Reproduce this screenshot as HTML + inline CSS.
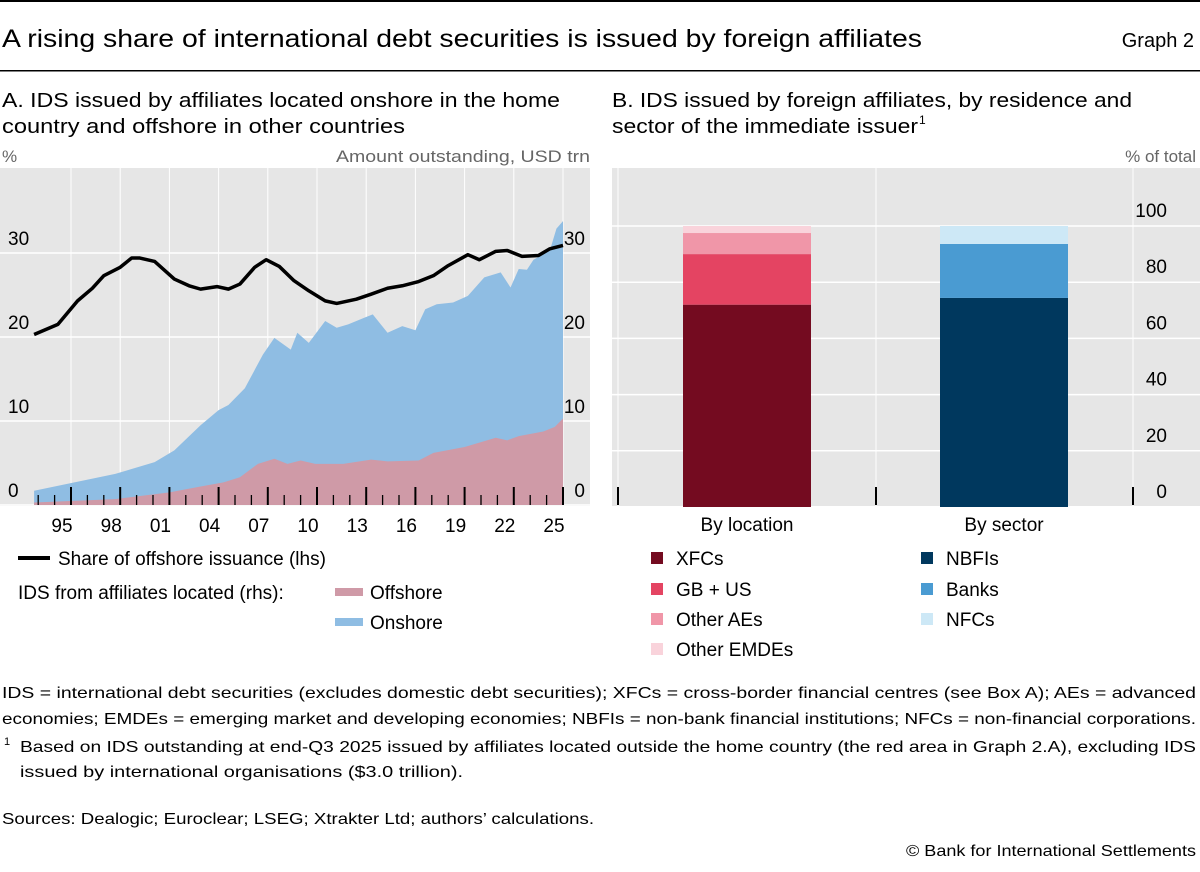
<!DOCTYPE html>
<html><head><meta charset="utf-8"><style>
body{margin:0;background:#fff}
svg{display:block;font-family:"Liberation Sans",sans-serif}
</style></head><body>
<svg id="s" width="1200" height="872" viewBox="0 0 1200 872">
<rect x="0" y="0" width="1200" height="2" fill="#000"/>
<text x="2" y="47" font-size="25" textLength="920" lengthAdjust="spacingAndGlyphs">A rising share of international debt securities is issued by foreign affiliates</text>
<text x="1194" y="47" font-size="20" text-anchor="end">Graph 2</text>
<rect x="0" y="70" width="1200" height="1.5" fill="#000"/>
<g font-size="20">
<text x="2" y="107" textLength="558" lengthAdjust="spacingAndGlyphs">A. IDS issued by affiliates located onshore in the home</text>
<text x="2" y="133" textLength="403" lengthAdjust="spacingAndGlyphs">country and offshore in other countries</text>
<text x="612" y="107" textLength="520" lengthAdjust="spacingAndGlyphs">B. IDS issued by foreign affiliates, by residence and</text>
<text x="612" y="133" textLength="306" lengthAdjust="spacingAndGlyphs">sector of the immediate issuer</text>
<text x="919" y="124" font-size="12">1</text>
</g>
<g font-size="17" fill="#666">
<text x="2" y="162">%</text>
<text x="590" y="162" text-anchor="end" textLength="254" lengthAdjust="spacingAndGlyphs">Amount outstanding, USD trn</text>
<text x="1196" y="162" text-anchor="end">% of total</text>
</g>
<rect x="0" y="168" width="590" height="338" fill="#e6e6e6"/>
<rect x="612" y="168" width="588" height="338" fill="#e6e6e6"/>
<g id="A"></g>
<g id="B"></g>
<g font-size="19" id="legend">
<line x1="18" y1="558" x2="50" y2="558" stroke="#000" stroke-width="4"/>
<text x="58" y="565">Share of offshore issuance (lhs)</text>
<text x="18" y="599">IDS from affiliates located (rhs):</text>
<rect x="335" y="588" width="28" height="8" fill="#cf9aa7"/>
<text x="370" y="599">Offshore</text>
<rect x="335" y="618" width="28" height="8" fill="#8fbde3"/>
<text x="370" y="629">Onshore</text>
<rect x="651" y="552" width="12" height="12" fill="#740b20"/>
<text x="676" y="565">XFCs</text>
<rect x="651" y="583" width="12" height="12" fill="#e44462"/>
<text x="676" y="596">GB + US</text>
<rect x="651" y="613" width="12" height="12" fill="#f096a8"/>
<text x="676" y="626">Other AEs</text>
<rect x="651" y="643" width="12" height="12" fill="#f9d3db"/>
<text x="676" y="656">Other EMDEs</text>
<rect x="921" y="552" width="12" height="12" fill="#00385e"/>
<text x="946" y="565">NBFIs</text>
<rect x="921" y="583" width="12" height="12" fill="#4a9bd2"/>
<text x="946" y="596">Banks</text>
<rect x="921" y="613" width="12" height="12" fill="#cde8f6"/>
<text x="946" y="626">NFCs</text>
</g>
<g font-size="16">
<text x="2" y="698" textLength="1194" lengthAdjust="spacingAndGlyphs">IDS = international debt securities (excludes domestic debt securities); XFCs = cross-border financial centres (see Box A); AEs = advanced</text>
<text x="2" y="724" textLength="1194" lengthAdjust="spacingAndGlyphs">economies; EMDEs = emerging market and developing economies; NBFIs = non-bank financial institutions; NFCs = non-financial corporations.</text>
<text x="4" y="745" font-size="11">1</text>
<text x="20" y="752" textLength="1176" lengthAdjust="spacingAndGlyphs">Based on IDS outstanding at end-Q3 2025 issued by affiliates located outside the home country (the red area in Graph 2.A), excluding IDS</text>
<text x="20" y="777" textLength="443" lengthAdjust="spacingAndGlyphs">issued by international organisations ($3.0 trillion).</text>
<text x="2" y="824" textLength="592" lengthAdjust="spacingAndGlyphs">Sources: Dealogic; Euroclear; LSEG; Xtrakter Ltd; authors’ calculations.</text>
<text x="1196" y="856" text-anchor="end" textLength="290" lengthAdjust="spacingAndGlyphs">© Bank for International Settlements</text>
</g>
</svg>
<script>
// Panel A data
const shareYears=[1992.75,1994.2,1995.4,1996.3,1997,1998,1998.7,1999.2,2000.1,2001.3,2002.2,2002.9,2003.9,2004.6,2005.3,2006.2,2006.9,2007.7,2008.6,2009.5,2010.5,2011.2,2012.4,2013.3,2014.3,2015.2,2016.2,2017.1,2018,2019.2,2019.9,2020.9,2021.6,2022.5,2023.5,2024.2,2025];
const shareVals=[20.3,21.5,24.3,25.8,27.3,28.3,29.4,29.4,29.0,26.9,26.1,25.7,26.0,25.7,26.3,28.3,29.2,28.4,26.7,25.5,24.3,24.0,24.5,25.1,25.8,26.1,26.6,27.3,28.5,29.8,29.2,30.2,30.3,29.6,29.7,30.5,30.9];
const totalYears=[1992.75,1997.7,2000.1,2001.3,2002.9,2004,2004.6,2005.6,2006.7,2007.4,2008.4,2008.8,2009.5,2010.5,2011.2,2011.9,2012.9,2013.4,2014.3,2015.2,2016,2016.6,2017.3,2018.3,2019.2,2020.2,2021.2,2021.8,2022.3,2022.8,2023.2,2024.2,2024.6,2025];
const totalVals=[1.7,3.7,5.1,6.5,9.5,11.3,11.9,13.9,17.9,19.9,18.5,20.5,19.3,21.9,21.1,21.5,22.3,22.7,20.5,21.3,20.8,23.3,23.9,24.1,24.9,27.1,27.7,25.9,28.1,28.0,29.2,30.3,32.9,33.8];
const offYears=[1992.75,1997.7,2001,2002.9,2004.3,2005.3,2006.4,2007.4,2008.2,2009,2009.9,2011.6,2013.3,2014.3,2016.2,2017.1,2019,2020.9,2021.6,2022.3,2023.8,2024.5,2025];
const offVals=[0.3,0.7,1.5,2.2,2.7,3.3,4.9,5.5,4.9,5.3,4.9,4.9,5.4,5.2,5.3,6.2,6.9,8.0,7.7,8.2,8.75,9.3,10.3];
const yTicks=[0,10,20,30];
const xTickYears=[1995,1998,2001,2004,2007,2010,2013,2016,2019,2022,2025];
const xTickLabels=["95","98","01","04","07","10","13","16","19","22","25"];
// Panel B data
const categories=["By location","By sector"];
const locationVals=[72,18,7.5,2.5];
const sectorVals=[74.4,19.2,6.4];
const bTicks=[0,20,40,60,80,100];

const NS="http://www.w3.org/2000/svg";
function mk(p,t,a){const e=document.createElementNS(NS,t);for(const k in a)e.setAttribute(k,a[k]);p.appendChild(e);return e;}
const A=document.getElementById('A'),B=document.getElementById('B');
const xA=t=>71+(t-1995)*16.4;
const yA=v=>505-v*8.4;
yTicks.forEach(v=>{
 const g=mk(A,'line',{x1:0,x2:590,y1:yA(v),y2:yA(v),stroke:'#fff','stroke-width':1.5});
 
 
});
xTickYears.forEach(t=>{
 const g=mk(A,'line',{x1:xA(t),x2:xA(t),y1:168,y2:506,stroke:'#fff','stroke-width':1});
 
 
});
function area(ys,vs){let d='M'+xA(ys[0])+','+yA(0);ys.forEach((t,i)=>d+='L'+xA(t)+','+yA(vs[i]));d+='L'+xA(ys[ys.length-1])+','+yA(0)+'Z';return d;}
const on=mk(A,'path',{d:area(totalYears,totalVals),fill:'#8fbde3'});


const off=mk(A,'path',{d:area(offYears,offVals),fill:'#cf9aa7'});


for(let y=1993;y<=2025;y++){
 const major=xTickYears.includes(y);
 const tk=mk(A,'line',{x1:xA(y),x2:xA(y),y1:505,y2:major?487:495,stroke:'#000','stroke-width':major?2:1.3});
 
 
}
let d='';shareYears.forEach((t,i)=>d+=(i?'L':'M')+xA(t)+','+yA(shareVals[i]));
const ln=mk(A,'path',{d:d,fill:'none',stroke:'#000','stroke-width':3.5,'stroke-linejoin':'round'});


yTicks.forEach(v=>{
 const l=mk(A,'text',{x:8,y:yA(v)-8,'font-size':19});l.textContent=v;
 
 
 const r=mk(A,'text',{x:585,y:yA(v)-8,'font-size':19,'text-anchor':'end'});r.textContent=v;
 
 
});
xTickYears.forEach((t,i)=>{
 const l=mk(A,'text',{x:xA(t)-9,y:532,'font-size':19,'text-anchor':'middle'});l.textContent=xTickLabels[i];
 
 
});
const yB=v=>507-v*2.81;
bTicks.forEach(v=>{
 const g=mk(B,'line',{x1:612,x2:1200,y1:yB(v),y2:yB(v),stroke:'#fff','stroke-width':1.5});
 
 
 const l=mk(B,'text',{x:1167,y:yB(v)-9,'font-size':19,'text-anchor':'end'});l.textContent=v;
 
 
});
[618,876,1133].forEach(x=>{
 const g=mk(B,'line',{x1:x,x2:x,y1:168,y2:506,stroke:'#fff','stroke-width':1});
 
 
 const t=mk(B,'line',{x1:x,x2:x,y1:505,y2:487,stroke:'#000','stroke-width':2});
 
 
});
const colsLoc=['#740b20','#e44462','#f096a8','#f9d3db'];
const colsSec=['#00385e','#4a9bd2','#cde8f6'];
function stack(vals,cols,x0,nm){let c=0;vals.forEach((v,i)=>{
 const r=mk(B,'rect',{x:x0,width:128,y:yB(c+v),height:v*2.81,fill:cols[i]});
 
 
 c+=v;});}
stack(locationVals,colsLoc,683,'location-bar');
stack(sectorVals,colsSec,940,'sector-bar');
[747,1004].forEach((cx,i)=>{
 const l=mk(B,'text',{x:cx,y:531,'font-size':19,'text-anchor':'middle'});l.textContent=categories[i];
 
 
});
</script>
</body></html>
